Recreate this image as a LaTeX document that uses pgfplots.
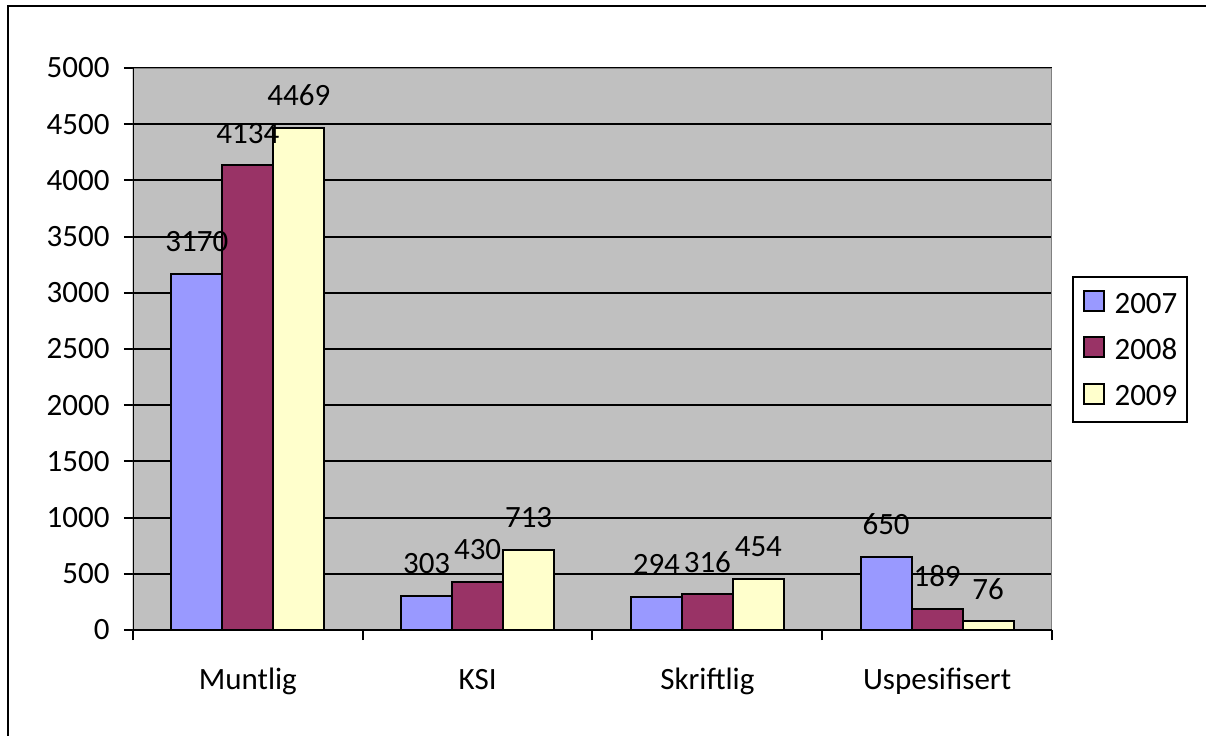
\documentclass[border=0pt]{standalone}
\usepackage{pgfplots}
\pgfplotsset{compat=1.18}
\usepackage{fontspec}
\setmainfont{Carlito}
\definecolor{c07}{HTML}{9999FF}
\definecolor{c08}{HTML}{993366}
\definecolor{c09}{HTML}{FFFFCC}
\definecolor{plotbg}{HTML}{C0C0C0}
\definecolor{frame}{HTML}{808080}
\begin{document}
\begin{tikzpicture}[font=\fontsize{15.5pt}{18pt}\selectfont]
\begin{axis}[
  at={(0pt,0pt)}, anchor=south west,
  width=459.5pt, height=281pt, scale only axis,
  xmin=-0.5, xmax=3.5, ymin=0, ymax=5000,
  /pgf/number format/assume math mode=true,
  /pgf/number format/1000 sep={},
  scaled y ticks=false,
  ytick={0,500,...,5000},
  xtick={0,1,2,3},
  xticklabels={Muntlig,KSI,Skriftlig,Uspesifisert},
  minor xtick={-0.5,0.5,1.5,2.5,3.5},
  tick pos=left,
  tick align=outside,
  major tick length=4.5pt, minor tick length=5pt,
  tick style={black, line width=1pt},
  major x tick style={draw=none},
  ymajorgrids, major grid style={black, line width=1pt},
  axis background/.style={fill=plotbg},
  axis line style={draw=none},
  yticklabel style={anchor=east, inner sep=0pt, xshift=-7pt},
  xticklabel style={anchor=base, inner sep=0pt, yshift=-25pt},
  ybar=0pt, bar width=0.222,
  nodes near coords,
  every node near coord/.append style={anchor=base, inner sep=0pt, yshift=11pt, black},
  legend style={at={(1.0218,0.6299)}, anchor=north west, draw=black, line width=1pt,
    fill=white, inner xsep=4.75pt, inner ysep=6.5pt, row sep=10pt,
    nodes={inner sep=0pt},
    font=\fontsize{15.5pt}{18pt}\selectfont},
  legend cell align=left,
  legend image code/.code={\draw[#1, draw=black, line width=1pt] (0pt,-3.25pt) rectangle (10pt,6.75pt); \path (15pt,0pt);},
]
\addplot[fill=c07, draw=black, line width=1pt] coordinates {(0,3170) (1,303) (2,294) (3,650)};
\addplot[fill=c08, draw=black, line width=1pt] coordinates {(0,4134) (1,430) (2,316) (3,189)};
\addplot[fill=c09, draw=black, line width=1pt] coordinates {(0,4469) (1,713) (2,454) (3,76)};
\legend{2007,2008,2009}
\draw[frame, line width=1pt] (rel axis cs:0,0) rectangle (rel axis cs:1,1);
\draw[black, line width=1pt] (rel axis cs:0,1) -- (rel axis cs:0,0) -- (rel axis cs:1,0);
\end{axis}
\draw[black, line width=1pt] (-62.5pt,-60pt) -- (-62.5pt,312pt) -- (545pt,312pt);
\pgfresetboundingbox
\useasboundingbox (-66.5pt,-52.5pt) rectangle (536.5pt,315pt);
\end{tikzpicture}
\end{document}
